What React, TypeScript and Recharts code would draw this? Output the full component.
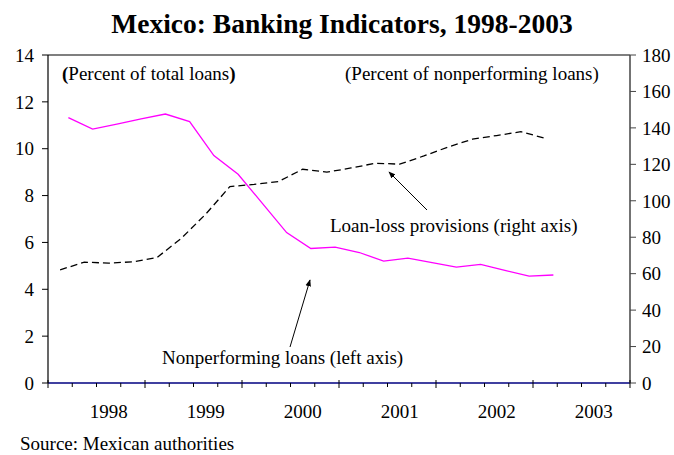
import React from 'react';
import { LineChart, Line, XAxis, YAxis, ReferenceLine } from 'recharts';

// Quarterly observations, 1998Q1 - 2003Q1
const quarters = [
  '1998Q1', '1998Q2', '1998Q3', '1998Q4',
  '1999Q1', '1999Q2', '1999Q3', '1999Q4',
  '2000Q1', '2000Q2', '2000Q3', '2000Q4',
  '2001Q1', '2001Q2', '2001Q3', '2001Q4',
  '2002Q1', '2002Q2', '2002Q3', '2002Q4',
  '2003Q1',
];

// Nonperforming loans, percent of total loans (left axis)
const nonperformingLoans = [
  11.33, 10.84, 11.05, 11.27, 11.48, 11.16, 9.71, 8.91, 7.67, 6.42,
  5.74, 5.8, 5.57, 5.2, 5.33, 5.14, 4.95, 5.06, 4.81, 4.56, 4.61,
];

// Loan-loss provisions, percent of nonperforming loans (right axis)
const loanLossProvisions = [
  62.1, 66.3, 65.8, 66.5, 68.9, 79.4, 92.6, 107.8, 109.0, 110.5,
  117.3, 115.7, 118.0, 120.6, 120.1, 124.6, 129.5, 133.8, 135.8, 137.9, 134.3,
];

const leftTicks = [0, 2, 4, 6, 8, 10, 12, 14];
const rightTicks = [0, 20, 40, 60, 80, 100, 120, 140, 160, 180];
const yearLabels = ['1998', '1999', '2000', '2001', '2002', '2003'];

const FONT = '"Liberation Serif", "Times New Roman", Times, serif';

// Time within the quarter at which each series is plotted
const NPL_OFFSET = 0.21;
const PROV_OFFSET = 0.125;

const qTime = (q: string, offset: number) =>
  Number(q.slice(0, 4)) + (Number(q.slice(5)) - 1) / 4 + offset;

const nplData = quarters.map((q, i) => ({ t: qTime(q, NPL_OFFSET), npl: nonperformingLoans[i] }));
const provData = quarters.map((q, i) => ({ t: qTime(q, PROV_OFFSET), prov: loanLossProvisions[i] }));

const firstYear = Number(yearLabels[0]);
const lastYear = Number(yearLabels[yearLabels.length - 1]) + 1;

const labelAt = new Map<number, string>();
yearLabels.forEach((y) => labelAt.set(Number(y) + 0.625, y));

const xTicks: number[] = [];
for (let k = 0; k <= (lastYear - firstYear) * 4; k++) xTicks.push(firstYear + k / 4);
labelAt.forEach((_, v) => xTicks.push(v));
xTicks.sort((a, b) => a - b);

const XTick = (props: any) => {
  const { x, y, payload } = props;
  const v = payload.value as number;
  const label = labelAt.get(v);
  if (label) {
    return (
      <text x={x} y={y + 35} textAnchor="middle" fontSize={19} fontFamily={FONT} fill="#000">
        {label}
      </text>
    );
  }
  const major = Math.abs((v - firstYear) % 1) < 1e-9;
  return major ? (
    <line x1={x} x2={x} y1={y - 3} y2={y + 5} stroke="#000" strokeWidth={1} />
  ) : (
    <line x1={x} x2={x} y1={y} y2={y + 4} stroke="#000" strokeWidth={1} />
  );
};

export default function App() {
  return (
    <div style={{ position: 'absolute', left: 0, top: 0, width: 674, height: 455, background: '#fff', fontFamily: FONT }}>
      <LineChart
        width={674}
        height={455}
        margin={{ top: 55, right: 0, bottom: 0, left: 8 }}
        style={{ fontFamily: FONT }}
      >
        <XAxis
          type="number"
          dataKey="t"
          domain={[firstYear, lastYear]}
          ticks={xTicks}
          interval={0}
          allowDataOverflow
          tickSize={0}
          tickMargin={0}
          tickLine={false}
          tick={<XTick />}
          axisLine={{ stroke: '#000080', strokeWidth: 1.5 }}
          height={72}
        />
        <YAxis
          yAxisId="left"
          orientation="left"
          domain={[0, 14]}
          ticks={leftTicks}
          interval={0}
          width={40}
          tickSize={6}
          tickMargin={8}
          axisLine={{ stroke: '#000', strokeWidth: 1.2 }}
          tickLine={{ stroke: '#000' }}
          tick={{ fontSize: 19, fill: '#000', fontFamily: FONT }}
        />
        <YAxis
          yAxisId="right"
          orientation="right"
          domain={[0, 180]}
          ticks={rightTicks}
          interval={0}
          width={44}
          tickSize={6}
          tickMargin={6}
          axisLine={{ stroke: '#444', strokeWidth: 1.5 }}
          tickLine={{ stroke: '#444' }}
          tick={{ fontSize: 19, fill: '#000', fontFamily: FONT }}
        />
        <ReferenceLine yAxisId="left" y={14} stroke="#000" strokeWidth={1.2} />
        <Line
          yAxisId="left"
          data={nplData}
          dataKey="npl"
          stroke="#ff00ff"
          strokeWidth={1.3}
          dot={false}
          isAnimationActive={false}
        />
        <Line
          yAxisId="right"
          data={provData}
          dataKey="prov"
          stroke="#000"
          strokeWidth={1.3}
          strokeDasharray="7 4"
          dot={false}
          isAnimationActive={false}
        />
      </LineChart>
      <svg
        width={674}
        height={455}
        style={{ position: 'absolute', left: 0, top: 0, pointerEvents: 'none' }}
        fontFamily={FONT}
      >
        <defs>
          <marker id="arrow" viewBox="0 0 10 10" refX="9" refY="5" markerWidth="7" markerHeight="7" orient="auto">
            <path d="M0,1 L10,5 L0,9 z" fill="#000" />
          </marker>
        </defs>
        <text x={342} y={33} textAnchor="middle" fontSize={27.5} fontWeight="bold" fill="#000">
          Mexico: Banking Indicators, 1998-2003
        </text>
        <text x={62} y={80} fontSize={19} fill="#000">
          <tspan fontWeight="bold">(</tspan>Percent of total loans<tspan fontWeight="bold">)</tspan>
        </text>
        <text x={345} y={80} fontSize={19} fill="#000">
          (Percent of nonperforming loans)
        </text>
        <text x={330} y={232} fontSize={19} fill="#000">
          Loan-loss provisions (right axis)
        </text>
        <text x={162} y={364} fontSize={19} fill="#000">
          Nonperforming loans (left axis)
        </text>
        <line x1={427} y1={210} x2={389} y2={172} stroke="#000" strokeWidth={1} markerEnd="url(#arrow)" />
        <line x1={290} y1={347} x2={310} y2={280} stroke="#000" strokeWidth={1} markerEnd="url(#arrow)" />
        <text x={20} y={450} fontSize={19} fill="#000">
          Source: Mexican authorities
        </text>
      </svg>
    </div>
  );
}
